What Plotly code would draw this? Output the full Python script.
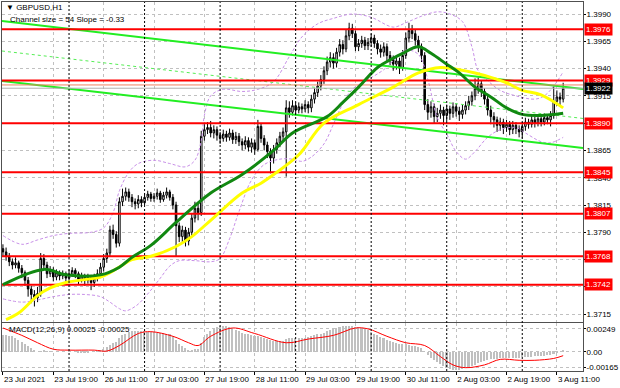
import plotly.graph_objects as go

# ---------------- data ----------------
closes = [
    1.3772, 1.3768, 1.3763, 1.3760, 1.3762, 1.3757, 1.3753, 1.3746, 1.3738, 1.3733,
    1.3730, 1.3734, 1.3766, 1.3760, 1.3752, 1.3755, 1.3749, 1.3753, 1.3750, 1.3752,
    1.3748, 1.3751, 1.3755, 1.3752, 1.3747, 1.3750, 1.3746, 1.3749, 1.3744, 1.3748,
    1.3752, 1.3758, 1.3766, 1.3771, 1.3792, 1.3788, 1.3780, 1.3818, 1.3823, 1.3827,
    1.3822, 1.3818, 1.3816, 1.3820, 1.3817, 1.3822, 1.3825, 1.3821, 1.3823, 1.3826,
    1.3820, 1.3824, 1.3827, 1.3822, 1.3815, 1.3796, 1.3786, 1.3792, 1.3782, 1.3790,
    1.3803, 1.3812, 1.3808, 1.3878, 1.3884, 1.3886, 1.3881, 1.3884, 1.3879, 1.3876,
    1.3880, 1.3877, 1.3881, 1.3875, 1.3878, 1.3873, 1.3870, 1.3874, 1.3868, 1.3872,
    1.3866, 1.3887, 1.3876, 1.3870, 1.3864, 1.3858, 1.3866, 1.3872, 1.3878, 1.3882,
    1.3904, 1.3900, 1.3906, 1.3902, 1.3905, 1.3903, 1.3907, 1.3904, 1.3912, 1.3918,
    1.3924, 1.3930, 1.3938, 1.3946, 1.3950, 1.3945, 1.3955, 1.3962, 1.3958, 1.3970,
    1.3977, 1.3972, 1.3960, 1.3963, 1.3966, 1.3961, 1.3964, 1.3968, 1.3963, 1.3958,
    1.3955, 1.3960, 1.3952, 1.3948, 1.3944, 1.3947, 1.3941, 1.3952, 1.3968, 1.3975,
    1.3972, 1.3966, 1.3960, 1.3952, 1.3907, 1.3900, 1.3905, 1.3896, 1.3899, 1.3902,
    1.3897, 1.3903, 1.3899, 1.3905, 1.3901, 1.3898, 1.3902, 1.3906, 1.3910, 1.3915,
    1.3922, 1.3926, 1.3919, 1.3912, 1.3902, 1.3896, 1.3893, 1.3888, 1.3891, 1.3886,
    1.3889, 1.3884, 1.3888, 1.3885, 1.3882, 1.3887, 1.3891, 1.3889, 1.3893, 1.3890,
    1.3894, 1.3891, 1.3895, 1.3893, 1.3897, 1.3910, 1.3914, 1.3912, 1.3922,
]
highs = [
    1.3779, 1.3776, 1.3771, 1.3766, 1.3767, 1.3764, 1.3760, 1.3755, 1.3749, 1.3741,
    1.3737, 1.3740, 1.3771, 1.3770, 1.3763, 1.3759, 1.3758, 1.3756, 1.3755, 1.3755,
    1.3754, 1.3756, 1.3758, 1.3757, 1.3754, 1.3753, 1.3752, 1.3752, 1.3751, 1.3752,
    1.3756, 1.3762, 1.3770, 1.3775, 1.3796, 1.3797, 1.3791, 1.3822, 1.3830, 1.3831,
    1.3830, 1.3825, 1.3821, 1.3824, 1.3823, 1.3826, 1.3828, 1.3827, 1.3826, 1.3830,
    1.3828, 1.3827, 1.3831, 1.3829, 1.3825, 1.3818, 1.3799, 1.3796, 1.3795, 1.3794,
    1.3807, 1.3818, 1.3816, 1.3883, 1.3889, 1.3891, 1.3892, 1.3888, 1.3887, 1.3882,
    1.3884, 1.3883, 1.3885, 1.3884, 1.3882, 1.3881, 1.3876, 1.3878, 1.3877, 1.3876,
    1.3875, 1.3893, 1.3890, 1.3879, 1.3873, 1.3867, 1.3870, 1.3876, 1.3882, 1.3886,
    1.3911, 1.3910, 1.3911, 1.3909, 1.3909, 1.3908, 1.3911, 1.3910, 1.3916, 1.3922,
    1.3928, 1.3934, 1.3942, 1.3951, 1.3955, 1.3954, 1.3959, 1.3967, 1.3966, 1.3976,
    1.3982, 1.3981, 1.3975, 1.3967, 1.3970, 1.3969, 1.3968, 1.3972, 1.3971, 1.3966,
    1.3962, 1.3964, 1.3963, 1.3956, 1.3952, 1.3951, 1.3950, 1.3957, 1.3973, 1.3982,
    1.3980, 1.3976, 1.3970, 1.3963, 1.3955, 1.3912, 1.3910, 1.3908, 1.3904, 1.3907,
    1.3905, 1.3907, 1.3906, 1.3909, 1.3908, 1.3905, 1.3907, 1.3910, 1.3915, 1.3919,
    1.3931, 1.3932, 1.3929, 1.3922, 1.3915, 1.3906, 1.3900, 1.3896, 1.3895, 1.3894,
    1.3893, 1.3892, 1.3892, 1.3891, 1.3888, 1.3891, 1.3895, 1.3894, 1.3897, 1.3896,
    1.3898, 1.3897, 1.3899, 1.3898, 1.3901, 1.3925, 1.3920, 1.3918, 1.3927,
]
lows = [
    1.3768, 1.3764, 1.3759, 1.3756, 1.3757, 1.3753, 1.3748, 1.3741, 1.3731, 1.3725,
    1.3722, 1.3726, 1.3731, 1.3756, 1.3748, 1.3749, 1.3745, 1.3746, 1.3746, 1.3747,
    1.3744, 1.3745, 1.3749, 1.3748, 1.3742, 1.3744, 1.3741, 1.3743, 1.3737, 1.3740,
    1.3745, 1.3748, 1.3754, 1.3762, 1.3768, 1.3784, 1.3776, 1.3777, 1.3814, 1.3819,
    1.3818, 1.3813, 1.3811, 1.3812, 1.3813, 1.3815, 1.3819, 1.3818, 1.3818, 1.3820,
    1.3817, 1.3818, 1.3821, 1.3819, 1.3811, 1.3768, 1.3781, 1.3780, 1.3777, 1.3778,
    1.3787, 1.3799, 1.3801, 1.3805, 1.3874, 1.3880, 1.3877, 1.3876, 1.3874, 1.3871,
    1.3873, 1.3873, 1.3874, 1.3871, 1.3871, 1.3869, 1.3865, 1.3866, 1.3864, 1.3863,
    1.3861, 1.3864, 1.3872, 1.3865, 1.3858, 1.3844, 1.3853, 1.3862, 1.3868, 1.3874,
    1.3841, 1.3895, 1.3897, 1.3898, 1.3899, 1.3899, 1.3900, 1.3899, 1.3900, 1.3908,
    1.3914, 1.3920, 1.3926, 1.3934, 1.3941, 1.3940, 1.3941, 1.3951, 1.3953, 1.3955,
    1.3966, 1.3968, 1.3956, 1.3956, 1.3959, 1.3957, 1.3957, 1.3960, 1.3959, 1.3953,
    1.3950, 1.3951, 1.3947, 1.3943, 1.3938, 1.3939, 1.3935, 1.3938, 1.3949, 1.3964,
    1.3967, 1.3961, 1.3955, 1.3946, 1.3902, 1.3893, 1.3895, 1.3890, 1.3891, 1.3894,
    1.3888, 1.3892, 1.3893, 1.3895, 1.3896, 1.3892, 1.3894, 1.3898, 1.3902, 1.3906,
    1.3911, 1.3917, 1.3914, 1.3907, 1.3897, 1.3889, 1.3886, 1.3882, 1.3883, 1.3880,
    1.3882, 1.3879, 1.3880, 1.3880, 1.3877, 1.3876, 1.3883, 1.3885, 1.3886, 1.3886,
    1.3887, 1.3887, 1.3888, 1.3889, 1.3887, 1.3894, 1.3906, 1.3905, 1.3909,
]
first_open = 1.3775
opens = [first_open] + closes[:-1]
bars = list(range(len(closes)))

# moving averages (bar index, price)
ma_green_x = [0, 13, 20, 31, 37, 41, 47, 55, 66, 76, 86, 92, 103, 108, 113, 119, 123, 127, 132, 136, 141, 145, 150, 155, 160, 165, 171, 178]
ma_green_y = [1.3742, 1.3756, 1.3751, 1.3751, 1.3758, 1.3767, 1.3778, 1.3799, 1.3826, 1.3843, 1.3865, 1.3881, 1.3896, 1.3909,
              1.3923, 1.3941, 1.3948, 1.3954, 1.3960, 1.3954, 1.3944, 1.3936, 1.3923, 1.3914, 1.3904, 1.3898, 1.3897, 1.3899]
ma_yellow_x = [1, 5, 11, 15, 20, 31, 34, 38, 41, 47, 55, 60, 66, 76, 82, 87, 94, 102, 113, 124, 132, 139, 145, 150, 155, 160, 165, 171, 178]
ma_yellow_y = [1.3710, 1.3716, 1.3732, 1.3739, 1.3744, 1.3749, 1.3753, 1.3760, 1.3765, 1.3768, 1.3777, 1.3786, 1.3801, 1.3826,
               1.3835, 1.3845, 1.3861, 1.3890, 1.3907, 1.3923, 1.3936, 1.3941, 1.3939, 1.3936, 1.3932, 1.3927, 1.3920, 1.3916, 1.3904]

# Bollinger bands (bar index, price)
bb_up_x = [0, 6, 11, 16, 21, 28, 32, 35, 37, 40, 43, 48, 53, 58, 61, 63, 64, 66, 70, 76, 81, 86, 91, 95, 100, 105, 111, 117,
           124, 128, 133, 138, 142, 146, 149, 151, 154, 158, 163, 169, 172, 175, 178]
bb_up_y = [1.3787, 1.3779, 1.3783, 1.3787, 1.3789, 1.3790, 1.3794, 1.3808, 1.3828, 1.3845, 1.3853, 1.3856, 1.3853, 1.3850,
           1.3856, 1.3874, 1.3897, 1.3915, 1.3921, 1.3919, 1.3921, 1.3928, 1.3951, 1.3969, 1.3981, 1.3986, 1.3990, 1.3987,
           1.3978, 1.3982, 1.3988, 1.3992, 1.3990, 1.3983, 1.3960, 1.3938, 1.3929, 1.3920, 1.3915, 1.3912, 1.3915, 1.3924, 1.3937]
bb_lo_x = [0, 6, 11, 16, 21, 26, 31, 34, 37, 39, 42, 44, 47, 50, 53, 56, 61, 66, 69, 72, 75, 79, 83, 88, 92, 95, 98, 102, 105,
           108, 111, 116, 121, 125, 128, 132, 135, 138, 141, 144, 147, 150, 154, 158, 163, 166, 171, 174, 178]
bb_lo_y = [1.3729, 1.3726, 1.3728, 1.3731, 1.3733, 1.3733, 1.3731, 1.3726, 1.3720, 1.3718, 1.3722, 1.3727, 1.3737, 1.3748,
           1.3759, 1.3764, 1.3764, 1.3763, 1.3766, 1.3784, 1.3809, 1.3838, 1.3852, 1.3857, 1.3857, 1.3855, 1.3859, 1.3871,
           1.3889, 1.3908, 1.3921, 1.3930, 1.3939, 1.3950, 1.3957, 1.3953, 1.3930, 1.3895, 1.3880, 1.3864, 1.3857, 1.3864,
           1.3877, 1.3884, 1.3886, 1.3881, 1.3873, 1.3872, 1.3877]

# regression channel (bar index at ends, price at ends)
channel_x = [-0.3, 184.3]
channel_upper = [1.39836, 1.39213]
channel_mid = [1.39561, 1.38943]
channel_lower = [1.39286, 1.38673]

levels = [1.3976, 1.3929, 1.3890, 1.3845, 1.3807, 1.3768, 1.3742]
bid_price = 1.3922
ask_price = 1.3925

price_ticks = [1.3990, 1.3965, 1.3940, 1.3915, 1.3890, 1.3865, 1.3840, 1.3815, 1.3790, 1.3765, 1.3740, 1.3715]
price_tick_text = ["1.3990", "1.3965", "1.3940", "1.3915", "", "1.3865", "1.3840", "1.3815", "1.3790", "", "", "1.3715"]

# MACD (x 1e-4)
macd_hist = [
    18, 18, 17, 17, 15, 13, 11, 9, 7, 4,
    2, 0, 1, 2, 1, 1, 0, 0, 0, 0,
    0, 0, 0, 0, -1, -1, -1, -1, 0, 0,
    1, 2, 3, 5, 8, 10, 11, 15, 18, 20,
    22, 23, 23, 23, 23, 23, 22, 22, 22, 21,
    21, 21, 20, 19, 17, 13, 9, 6, 4, 2,
    2, 3, 3, 10, 16, 20, 23, 25, 27, 28,
    28, 28, 27, 26, 24, 23, 21, 20, 19, 18,
    17, 17, 16, 15, 14, 13, 12, 12, 12, 12,
    14, 15, 15, 15, 15, 15, 15, 16, 17, 18,
    19, 20, 21, 23, 24, 25, 26, 27, 28, 28,
    28, 28, 27, 27, 26, 25, 24, 22, 20, 18,
    16, 15, 13, 12, 11, 10, 9, 9, 9, 8,
    7, 6, 5, 4, 1, -3, -6, -9, -11, -13,
    -15, -17, -18, -19, -19, -19, -18, -17, -16, -15,
    -14, -12, -11, -10, -9, -8, -8, -8, -7, -7,
    -7, -7, -6, -6, -6, -5, -5, -5, -5, -4,
    -4, -4, -4, -3, -3, -2, -1, 0, 2,
]
signal_x = [0, 6, 11, 16, 21, 29, 33, 37, 43, 47, 54, 59, 62, 66, 73, 80, 90, 97, 105, 112, 116, 122, 128, 134, 139, 143, 147,
            153, 158, 164, 169, 175, 178]
signal_y = [26, 18, 10, 3, 2, 2, 1, 7, 20, 22, 17, 10, 7, 17, 26, 20, 10, 14, 18, 26, 25, 17, 10, 7, -5, -14, -17,
            -14, -8, -9, -9, -7, -4]
macd_ticks = [0.00249, 0.0, -0.00165]
macd_tick_text = ["0.00249", "0.00", "-0.00165"]

time_ticks = [0, 16, 32, 48, 64, 80, 96, 112, 128, 144, 160, 176]
time_labels = ["23 Jul 2021", "23 Jul 19:00", "26 Jul 11:00", "27 Jul 03:00", "27 Jul 19:00", "28 Jul 11:00",
               "29 Jul 03:00", "29 Jul 19:00", "30 Jul 11:00", "2 Aug 03:00", "2 Aug 19:00", "3 Aug 11:00"]
day_separators = [21, 45, 69, 93, 117, 141, 165]

# ---------------- figure ----------------
FONT = "Arial, Liberation Sans, sans-serif"
FS = 8
GRID = "#C0C0C0"
fig = go.Figure()

# Bollinger bands
for bx, by in ((bb_up_x, bb_up_y), (bb_lo_x, bb_lo_y)):
    fig.add_trace(go.Scatter(x=bx, y=by, mode="lines", line=dict(color="#C890E8", width=1, dash="3px,2px", shape="spline"),
                             hoverinfo="skip", showlegend=False))

# channel
fig.add_trace(go.Scatter(x=channel_x, y=channel_upper, mode="lines", line=dict(color="#22EE22", width=2), showlegend=False))
fig.add_trace(go.Scatter(x=channel_x, y=channel_lower, mode="lines", line=dict(color="#22EE22", width=2), showlegend=False))
fig.add_trace(go.Scatter(x=channel_x, y=channel_mid, mode="lines", line=dict(color="#55EE55", width=1, dash="3px,3px"),
                         showlegend=False))

# horizontal levels
fig.add_trace(go.Scatter(x=channel_x, y=[ask_price, ask_price], mode="lines", line=dict(color="#F08060", width=1),
                         showlegend=False))
fig.add_trace(go.Scatter(x=channel_x, y=[bid_price, bid_price], mode="lines", line=dict(color="#B0B0B0", width=1),
                         showlegend=False))
for lv in levels:
    fig.add_trace(go.Scatter(x=channel_x, y=[lv, lv], mode="lines", line=dict(color="#FF0000", width=2),
                             showlegend=False, hoverinfo="skip"))

# moving averages
fig.add_trace(go.Scatter(x=ma_yellow_x, y=ma_yellow_y, mode="lines",
                         line=dict(color="#FFFF00", width=3, shape="spline"), showlegend=False))
fig.add_trace(go.Scatter(x=ma_green_x, y=ma_green_y, mode="lines",
                         line=dict(color="#118811", width=3, shape="spline"), showlegend=False))

# candles
fig.add_trace(go.Candlestick(
    x=bars, open=opens, high=highs, low=lows, close=closes,
    increasing=dict(line=dict(color="#000000", width=1), fillcolor="#FFFFFF"),
    decreasing=dict(line=dict(color="#000000", width=1), fillcolor="#000000"),
    whiskerwidth=0, showlegend=False, xaxis="x", yaxis="y"))

# MACD
fig.add_trace(go.Bar(x=bars, y=[v * 1e-4 for v in macd_hist], marker=dict(color="#C0C0C0", line=dict(width=0)),
                     width=0.5, xaxis="x2", yaxis="y2", showlegend=False))
fig.add_trace(go.Scatter(x=signal_x, y=[v * 1e-4 for v in signal_y], mode="lines",
                         line=dict(color="#FF0000", width=1, shape="spline"), xaxis="x2", yaxis="y2", showlegend=False))

# day separators
for d in day_separators:
    fig.add_shape(type="line", xref="x", yref="paper", x0=d, x1=d, y0=0, y1=1,
                  line=dict(color="#000000", width=1, dash="2px,2px"))

# annotations
ann = []
for lv in levels:
    ann.append(dict(x=1, xref="paper", y=lv, yref="y", xanchor="left", yanchor="middle", xshift=1,
                    text=f"{lv:.4f}", showarrow=False, bgcolor="#FF0000",
                    font=dict(family=FONT, size=FS, color="#FFFFFF"), borderpad=1))
ann.append(dict(x=1, xref="paper", y=bid_price, yref="y", xanchor="left", yanchor="middle", xshift=1,
                text=f"{bid_price:.4f}", showarrow=False, bgcolor="#000000",
                font=dict(family=FONT, size=FS, color="#FFFFFF"), borderpad=1))
ann.append(dict(x=0.004, xref="paper", y=0.984, yref="paper", xanchor="left", yanchor="middle",
                text="▼ GBPUSD,H1", showarrow=False, font=dict(family=FONT, size=FS, color="#000000")))
ann.append(dict(x=0.010, xref="paper", y=0.953, yref="paper", xanchor="left", yanchor="middle",
                text="Channel size = 54 Slope = -0.33", showarrow=False, font=dict(family=FONT, size=FS, color="#000000")))
ann.append(dict(x=0.008, xref="paper", y=0.112, yref="paper", xanchor="left", yanchor="middle",
                text="MACD(12,26,9) 0.00025 -0.00025", showarrow=False, font=dict(family=FONT, size=FS, color="#000000")))

xr = [-0.3, 184.3]
axis_common = dict(showgrid=True, gridcolor=GRID, griddash="3px,3px", gridwidth=1, zeroline=False,
                   showline=True, mirror=True, linecolor="#505050", linewidth=1)
fig.update_layout(
    width=620, height=388,
    margin=dict(l=1, r=32, t=2, b=17),
    paper_bgcolor="#FFFFFF", plot_bgcolor="#FFFFFF",
    showlegend=False, bargap=0,
    annotations=ann,
    xaxis=dict(domain=[0, 1], range=xr, anchor="y", tickvals=time_ticks, showticklabels=False,
               rangeslider=dict(visible=False), ticks="", **axis_common),
    yaxis=dict(domain=[0.1328, 1], range=[1.37078, 1.40010], side="right", anchor="x",
               tickvals=price_ticks, ticktext=price_tick_text,
               tickfont=dict(family=FONT, size=FS, color="#000000"), ticks="outside", ticklen=2, tickcolor="#000000",
               ticklabelstandoff=-1, **axis_common),
    xaxis2=dict(domain=[0, 1], range=xr, anchor="y2", tickvals=time_ticks, ticktext=time_labels, tickangle=0,
                tickfont=dict(family=FONT, size=FS, color="#000000"), ticks="outside", ticklen=3, tickcolor="#000000",
                ticklabelposition="outside right", **axis_common),
    yaxis2=dict(domain=[0, 0.1301], range=[-0.00206, 0.00314], side="right", anchor="x2",
                tickvals=macd_ticks, ticktext=macd_tick_text,
                tickfont=dict(family=FONT, size=FS, color="#000000"), ticks="outside", ticklen=2, tickcolor="#000000",
                ticklabelstandoff=-1, **axis_common),
)

fig.write_html("out.html", config={"displayModeBar": False},
               post_script="document.body.style.margin='0';document.body.style.padding='0';")
